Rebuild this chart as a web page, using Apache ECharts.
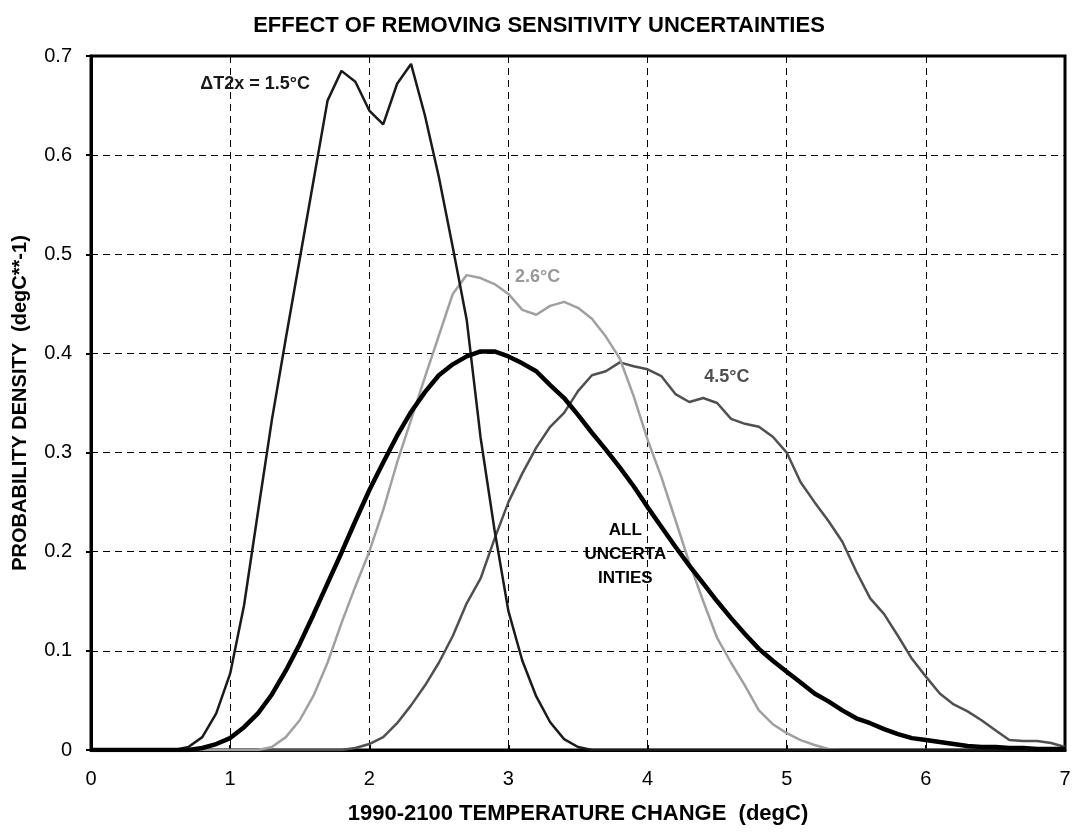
<!DOCTYPE html>
<html>
<head>
<meta charset="utf-8">
<script src="https://cdn.jsdelivr.net/npm/echarts@6/dist/echarts.min.js"></script>
<style>
html,body{margin:0;padding:0;background:#fff;}
#chart{width:1078px;height:835px;}
</style>
</head>
<body>
<div id="chart"></div>
<script>
// Temperature change (degC), x positions of the sampled densities
var temps = [0.0,0.1,0.2,0.3,0.4,0.5,0.6,0.7,0.8,0.9,
  1.0,1.1,1.2,1.3,1.4,1.5,1.6,1.7,1.8,1.9,
  2.0,2.1,2.2,2.3,2.4,2.5,2.6,2.7,2.8,2.9,
  3.0,3.1,3.2,3.3,3.4,3.5,3.6,3.7,3.8,3.9,
  4.0,4.1,4.2,4.3,4.4,4.5,4.6,4.7,4.8,4.9,
  5.0,5.1,5.2,5.3,5.4,5.5,5.6,5.7,5.8,5.9,
  6.0,6.1,6.2,6.3,6.4,6.5,6.6,6.7,6.8,6.9,7.0];

// dT2x = 1.5 C
var sens15 = [0,0,0,0,0,0,0,0.003,0.013,0.037,
  0.077,0.146,0.24,0.333,0.415,0.495,0.575,0.655,0.685,0.674,
  0.645,0.631,0.672,0.692,0.640,0.578,0.507,0.434,0.315,0.222,
  0.140,0.090,0.054,0.028,0.011,0.003,0,0,0,0,
  0,0,0,0,0,0,0,0,0,0,
  0,0,0,0,0,0,0,0,0,0,
  0,0,0,0,0,0,0,0,0,0,0];

// dT2x = 2.6 C
var sens26 = [0,0,0,0,0,0,0,0,0,0,
  0,0,0,0.003,0.013,0.03,0.055,0.088,0.128,0.165,
  0.2,0.242,0.29,0.333,0.376,0.418,0.46,0.479,0.476,0.47,
  0.46,0.444,0.439,0.448,0.452,0.446,0.435,0.417,0.395,0.357,
  0.313,0.275,0.232,0.189,0.15,0.113,0.088,0.065,0.04,0.026,
  0.017,0.01,0.005,0.001,0,0,0,0,0,0,
  0,0,0,0,0,0,0,0,0,0,0];

// dT2x = 4.5 C
var sens45 = [0,0,0,0,0,0,0,0,0,0,
  0,0,0,0,0,0,0,0,0,0.002,
  0.006,0.013,0.027,0.045,0.065,0.088,0.115,0.148,0.173,0.213,
  0.25,0.279,0.305,0.326,0.34,0.362,0.378,0.382,0.391,0.387,
  0.384,0.377,0.359,0.351,0.355,0.35,0.334,0.329,0.326,0.316,
  0.3,0.27,0.25,0.231,0.21,0.18,0.153,0.137,0.115,0.092,
  0.074,0.057,0.046,0.039,0.03,0.02,0.01,0.009,0.009,0.007,0.003];

// All uncertainties
var allUnc = [0,0,0,0,0,0,0,0,0.002,0.006,
  0.012,0.023,0.037,0.056,0.08,0.107,0.137,0.168,0.199,0.231,
  0.262,0.29,0.317,0.341,0.361,0.378,0.389,0.397,0.402,0.402,
  0.397,0.39,0.382,0.368,0.355,0.338,0.32,0.303,0.285,0.266,
  0.245,0.225,0.205,0.186,0.168,0.15,0.133,0.117,0.102,0.09,
  0.079,0.068,0.057,0.049,0.04,0.032,0.027,0.021,0.016,0.012,
  0.01,0.008,0.006,0.004,0.003,0.003,0.002,0.002,0.001,0.001,0.001];

var titleText = 'EFFECT OF REMOVING SENSITIVITY UNCERTAINTIES';
var xName = '1990-2100 TEMPERATURE CHANGE  (degC)';
var yName = 'PROBABILITY DENSITY  (degC**-1)';

function pairs(ys){ return temps.map(function(t,i){ return [t, ys[i]]; }); }

var FONT = '"Liberation Sans", Arial, sans-serif';
var chart = echarts.init(document.getElementById('chart'));

function lbl(coord, text, color, size){
  return { coord: coord, symbolSize: 0,
    label: { show: true, position: 'inside', formatter: text, color: color,
      fontFamily: FONT, fontWeight: 'bold', fontSize: size, lineHeight: 24 } };
}

chart.setOption({
  animation: false,
  backgroundColor: '#fff',
  title: {
    text: titleText, left: 'center', top: 10,
    textStyle: { fontFamily: FONT, fontWeight: 'bold', fontSize: 22, color: '#000' }
  },
  grid: { left: 91, right: 13, top: 56, bottom: 85, show: true,
    borderColor: '#000', borderWidth: 3, backgroundColor: 'transparent' },
  xAxis: {
    type: 'value', min: 0, max: 7, interval: 1,
    name: xName, nameLocation: 'middle', nameGap: 53,
    nameTextStyle: { fontFamily: FONT, fontWeight: 'bold', fontSize: 22, color: '#000' },
    axisLine: { show: true, lineStyle: { color: '#000', width: 3 } },
    axisTick: { show: true, inside: true, length: 5, lineStyle: { color: '#000', width: 2 } },
    axisLabel: { fontFamily: FONT, fontSize: 20, color: '#000', margin: 19 },
    splitLine: { show: true, lineStyle: { color: '#000', width: 1, type: [7, 5] } }
  },
  yAxis: {
    type: 'value', min: 0, max: 0.7, interval: 0.1,
    name: yName, nameLocation: 'middle', nameGap: 61,
    nameTextStyle: { fontFamily: FONT, fontWeight: 'bold', fontSize: 20, color: '#000' },
    axisLine: { show: true, lineStyle: { color: '#000', width: 3 } },
    axisTick: { show: true, inside: false, length: 5, lineStyle: { color: '#000', width: 2 } },
    axisLabel: { fontFamily: FONT, fontSize: 20, color: '#000', margin: 19 },
    splitLine: { show: true, lineStyle: { color: '#000', width: 1, type: [7, 5] } }
  },
  series: [
    { name: '4.5', type: 'line', data: pairs(sens45), showSymbol: false,
      lineStyle: { color: '#505050', width: 2.5 }, z: 2,
      markPoint: { data: [ lbl([4.57, 0.376], '4.5°C', '#505050', 18) ] } },
    { name: '2.6', type: 'line', data: pairs(sens26), showSymbol: false,
      lineStyle: { color: '#a0a0a0', width: 2.5 }, z: 3,
      markPoint: { data: [ lbl([3.21, 0.477], '2.6°C', '#999999', 18) ] } },
    { name: '1.5', type: 'line', data: pairs(sens15), showSymbol: false,
      lineStyle: { color: '#1a1a1a', width: 2.5 }, z: 4,
      markPoint: { data: [ lbl([1.18, 0.672], 'ΔT2x = 1.5°C', '#1a1a1a', 18) ] } },
    { name: 'all', type: 'line', data: pairs(allUnc), showSymbol: false,
      lineStyle: { color: '#000', width: 4.5 }, z: 5,
      markPoint: { data: [ lbl([3.84, 0.197], 'ALL\nUNCERTA\nINTIES', '#000', 17) ] } }
  ]
});
</script>
</body>
</html>
